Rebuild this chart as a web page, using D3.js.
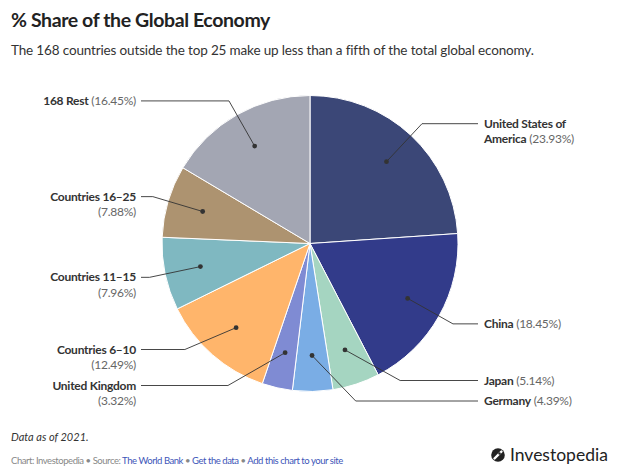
<!DOCTYPE html>
<html>
<head>
<meta charset="utf-8">
<script src="https://cdn.jsdelivr.net/npm/d3@7"></script>
<style>
  html, body { margin: 0; padding: 0; background: #fff; }
  svg { display: block; font-family: "Source Sans Pro", Lato, "Noto Sans", sans-serif; }
</style>
</head>
<body>
<svg id="chart" width="622" height="472"></svg>
<script>
// ---- data ----
const categories = ["United States of America", "China", "Japan", "Germany", "United Kingdom",
                    "Countries 6–10", "Countries 11–15", "Countries 16–25", "168 Rest"];
const shares = [23.93, 18.45, 5.14, 4.39, 3.32, 12.49, 7.96, 7.88, 16.45];
const colors = ["#3b4777", "#323b8a", "#a5d5c1", "#7aade5", "#7f8bd3",
                "#ffb56b", "#7fb8c1", "#ad9370", "#a3a6b3"];
// label line breaks (how the label text wraps)
const labelLines = [
  [["United States of", ""], ["America", " (23.93%)"]],
  [["China", " (18.45%)"]],
  [["Japan", " (5.14%)"]],
  [["Germany", " (4.39%)"]],
  [["United Kingdom", ""], ["", "(3.32%)"]],
  [["Countries 6–10", ""], ["", "(12.49%)"]],
  [["Countries 11–15", ""], ["", "(7.96%)"]],
  [["Countries 16–25", ""], ["", "(7.88%)"]],
  [["168 Rest", " (16.45%)"]]
];

const svg = d3.select("#chart");
const cx = 310, cy = 243.5, R = 148;
const dotR = 112, elbowR = 164;
const lineH = 15.5;
const maxY = 401;

// Title & subtitle
svg.append("text").attr("x", 11).attr("y", 27)
  .attr("font-size", 19.5).attr("font-weight", 700).attr("fill", "#222")
  .attr("letter-spacing", -0.4)
  .text("% Share of the Global Economy");
svg.append("text").attr("x", 11).attr("y", 55)
  .attr("font-size", 13.5).attr("fill", "#333").attr("letter-spacing", -0.15)
  .text("The 168 countries outside the top 25 make up less than a fifth of the total global economy.");

const pie = d3.pie().sort(null).value(d => d)(shares);
const arc = d3.arc().innerRadius(0).outerRadius(R);
const dotArc = d3.arc().innerRadius(dotR).outerRadius(dotR);

const g = svg.append("g").attr("transform", `translate(${cx},${cy})`);
g.selectAll("path.slice").data(pie).join("path")
  .attr("class", "slice")
  .attr("d", arc)
  .attr("fill", (d, i) => colors[i])
  .attr("stroke", "#fff").attr("stroke-width", 1);

// label layout
const labels = pie.map((d, i) => {
  const mid = (d.startAngle + d.endAngle) / 2;
  const side = Math.sin(mid) >= 0 ? 1 : -1;
  const ideal = -elbowR * Math.cos(mid);
  return { i, mid, side, y: ideal, n: labelLines[i].length, dot: dotArc.centroid(d) };
});
[1, -1].forEach(side => {
  const L = labels.filter(l => l.side === side).sort((a, b) => b.y - a.y);
  let limit = maxY - cy;
  L.forEach(l => {
    const bottom = l.y + (l.n - 1) * lineH;
    if (bottom > limit) l.y = limit - (l.n - 1) * lineH;
    limit = l.y - 20.5;
  });
});

labels.forEach(l => {
  const ex = l.side * Math.sqrt(Math.max(0, elbowR * elbowR - l.y * l.y));
  const endX = l.side > 0 ? 478 - cx : 141 - cx;
  g.append("polyline")
    .attr("points", [[l.dot[0], l.dot[1]], [ex, l.y], [endX, l.y]].map(p => p.join(",")).join(" "))
    .attr("fill", "none").attr("stroke", "#333").attr("stroke-width", 0.9);
  g.append("circle").attr("cx", l.dot[0]).attr("cy", l.dot[1]).attr("r", 2.4).attr("fill", "#333");

  const tx = l.side > 0 ? 484 - cx : 136 - cx;
  labelLines[l.i].forEach((ln, k) => {
    const t = g.append("text").attr("x", tx).attr("y", l.y + k * lineH + 4)
      .attr("text-anchor", l.side > 0 ? "start" : "end")
      .attr("font-size", 12).attr("letter-spacing", -0.25);
    if (ln[0]) t.append("tspan").attr("font-weight", 700).attr("fill", "#333").text(ln[0]);
    if (ln[1]) t.append("tspan").attr("fill", "#666").text(ln[1]);
  });
});

// Footer
svg.append("text").attr("x", 11).attr("y", 441)
  .attr("font-size", 11).attr("font-style", "italic").attr("fill", "#333")
  .text("Data as of 2021.");
const foot = svg.append("text").attr("x", 11).attr("y", 464)
  .attr("font-size", 9.5).attr("letter-spacing", -0.45);
[["Chart: Investopedia • Source: ", "#888"], ["The World Bank", "#3d55b8"], [" • ", "#888"],
 ["Get the data", "#3d55b8"], [" • ", "#888"], ["Add this chart to your site", "#3d55b8"]]
  .forEach(([t, c]) => foot.append("tspan").attr("fill", c).text(t));

// Logo
const logo = svg.append("g").attr("transform", "translate(498,455)");
logo.append("circle").attr("r", 6.8).attr("fill", "#222");
logo.append("path").attr("d", "M-3.5,3.5 L3.5,-3.5").attr("stroke", "#fff").attr("stroke-width", 2.4).attr("stroke-linecap", "round");
logo.append("circle").attr("cx", 1.5).attr("cy", -1.5).attr("r", 1.2).attr("fill", "#222");
svg.append("text").attr("x", 510).attr("y", 461).attr("font-size", 17.5)
  .attr("fill", "#222").text("Investopedia");
</script>
</body>
</html>
